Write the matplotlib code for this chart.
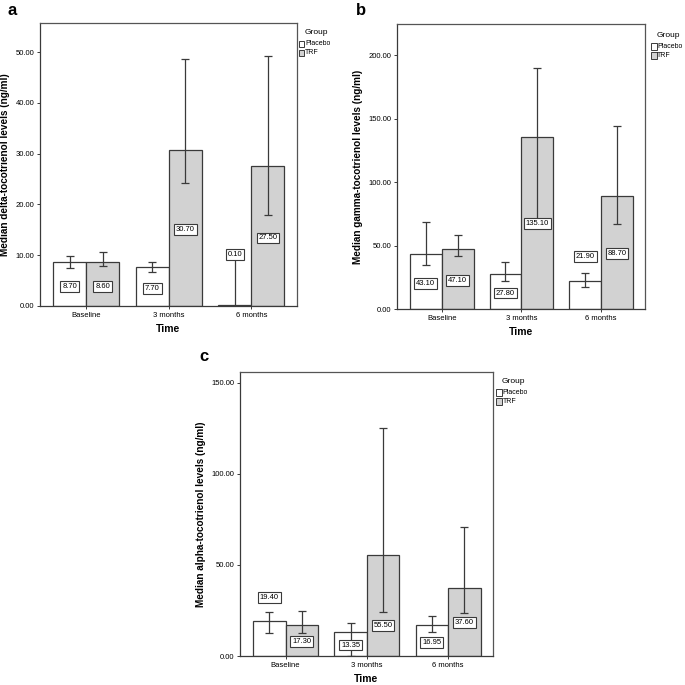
import matplotlib.pyplot as plt
import numpy as np

plt.rcParams['font.family'] = ['Liberation Sans', 'DejaVu Sans']

# categories / groups
times = ["Baseline", "3 months", "6 months"]
groups = ["Placebo", "TRF"]

# panel a - delta-tocotrienol
delta_placebo = [8.70, 7.70, 0.10]
delta_trf = [8.60, 30.70, 27.50]
delta_placebo_lo = [7.4, 6.75, 0.0]
delta_placebo_hi = [9.9, 8.7, 9.4]
delta_trf_lo = [7.9, 24.2, 17.9]
delta_trf_hi = [10.7, 48.6, 49.3]
delta_placebo_lbl = [3.9, 3.4, 10.2]
delta_trf_lbl = [3.9, 15.1, 13.4]

# panel b - gamma-tocotrienol
gamma_placebo = [43.10, 27.80, 21.90]
gamma_trf = [47.10, 135.10, 88.70]
gamma_placebo_lo = [34.6, 22.3, 17.3]
gamma_placebo_hi = [68.4, 36.7, 28.3]
gamma_trf_lo = [41.9, 70.8, 67.1]
gamma_trf_hi = [58.5, 189.5, 144.4]
gamma_placebo_lbl = [20.4, 12.6, 41.4]
gamma_trf_lbl = [22.3, 67.1, 43.5]

# panel c - alpha-tocotrienol
alpha_placebo = [19.40, 13.35, 16.95]
alpha_trf = [17.30, 55.50, 37.60]
alpha_placebo_lo = [12.8, 0.0, 13.4]
alpha_placebo_hi = [24.4, 18.0, 22.0]
alpha_trf_lo = [12.5, 24.4, 23.5]
alpha_trf_hi = [24.8, 125.2, 70.6]
alpha_placebo_lbl = [32.3, 6.05, 7.5]
alpha_trf_lbl = [7.9, 16.7, 18.3]

EDGE = '#3a3a3a'
TRF_COLOR = '#d2d2d2'


def draw_panel(fig, rect, letter, letter_xy, ylabel, yticks, ymax,
               pv, tv, plo, phi, tlo, thi, plbl, tlbl, legend_xy):
    ax = fig.add_axes(rect)
    x = np.arange(len(times))
    w = 0.4
    series = [
        (x - w / 2, pv, plo, phi, plbl, 'white'),
        (x + w / 2, tv, tlo, thi, tlbl, TRF_COLOR),
    ]
    for xs, vals, lo, hi, lbl, col in series:
        vals = np.array(vals)
        ax.bar(xs, vals, width=w, color=col, edgecolor=EDGE, linewidth=0.9, zorder=2)
        yerr = [vals - np.array(lo), np.array(hi) - vals]
        ax.errorbar(xs, vals, yerr=yerr, fmt='none', ecolor=EDGE,
                    elinewidth=0.9, capsize=3.2, capthick=0.9, zorder=3)
        for xi, v, ly in zip(xs, vals, lbl):
            ax.text(xi, ly, '{:.2f}'.format(v), ha='center', va='center', fontsize=5.5,
                    zorder=4,
                    bbox=dict(boxstyle='square,pad=0.25', fc='white', ec=EDGE, lw=0.8))
    ax.set_xlim(-0.56, 2.55)
    ax.set_ylim(0, ymax)
    ax.set_xticks(x)
    ax.set_xticklabels(times, fontsize=5.5)
    ax.set_yticks(yticks)
    ax.set_yticklabels(['{:.2f}'.format(t) for t in yticks], fontsize=5.5)
    ax.tick_params(axis='both', direction='out', length=2.5, width=0.7,
                   color=EDGE, pad=1.5)
    for s in ax.spines.values():
        s.set_color('#555555')
        s.set_linewidth(0.9)
    ax.spines['left'].set_color(EDGE)
    ax.spines['bottom'].set_color(EDGE)
    ax.set_ylabel(ylabel, fontsize=7.2, fontweight='bold', labelpad=4)
    ax.set_xlabel('Time', fontsize=7.5, fontweight='bold', labelpad=4)
    fig.text(letter_xy[0], letter_xy[1], letter, fontsize=12,
             fontweight='bold', ha='center', va='center')

    # legend outside the plot area
    lx, ly = legend_xy
    fig.text(lx + 0.009, ly, 'Group', fontsize=6, ha='left', va='center')
    for i, (g, col) in enumerate(zip(groups, ['white', TRF_COLOR])):
        yy = ly - 0.016 - i * 0.013
        fig.patches.append(plt.Rectangle((lx, yy - 0.005), 0.0085, 0.0095,
                                         transform=fig.transFigure,
                                         fc=col, ec=EDGE, lw=0.7))
        fig.text(lx + 0.0095, yy, g, fontsize=5, ha='left', va='center')
    return ax


fig = plt.figure(figsize=(6.85, 6.85), dpi=100)

draw_panel(fig, [0.0584, 0.5533, 0.375, 0.413], 'a', (0.0175, 0.984),
           'Median delta-tocotrienol levels (ng/ml)',
           [0, 10, 20, 30, 40, 50], 55.7,
           delta_placebo, delta_trf, delta_placebo_lo, delta_placebo_hi,
           delta_trf_lo, delta_trf_hi, delta_placebo_lbl, delta_trf_lbl,
           (0.436, 0.952))

draw_panel(fig, [0.5796, 0.5489, 0.362, 0.416], 'b', (0.527, 0.985),
           'Median gamma-tocotrienol levels (ng/ml)',
           [0, 50, 100, 150, 200], 224.4,
           gamma_placebo, gamma_trf, gamma_placebo_lo, gamma_placebo_hi,
           gamma_trf_lo, gamma_trf_hi, gamma_placebo_lbl, gamma_trf_lbl,
           (0.950, 0.948))

draw_panel(fig, [0.3504, 0.0423, 0.369, 0.4146], 'c', (0.298, 0.479),
           'Median alpha-tocotrienol levels (ng/ml)',
           [0, 50, 100, 150], 156,
           alpha_placebo, alpha_trf, alpha_placebo_lo, alpha_placebo_hi,
           alpha_trf_lo, alpha_trf_hi, alpha_placebo_lbl, alpha_trf_lbl,
           (0.724, 0.443))

fig.savefig('out.png', dpi=100)
